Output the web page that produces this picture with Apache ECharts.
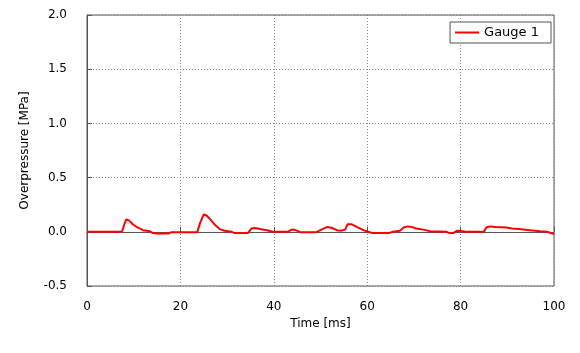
<!DOCTYPE html>
<html>
<head>
<meta charset="utf-8">
<script src="https://cdn.jsdelivr.net/npm/echarts@6/dist/echarts.min.js"></script>
<style>
  html, body { margin: 0; padding: 0; background: #fff; }
  #chart { width: 580px; height: 353px; }
</style>
</head>
<body>
<div id="chart"></div>
<script>
// 读图得到的数据 (time in ms, overpressure in MPa)
const seriesName = 'Gauge 1'
const timeMs = [0, 7.5, 8.0, 8.4, 9.0, 9.8, 10.8, 12.0, 13.5, 14.0, 15.0, 17.5, 18.0, 23.6, 24.2, 25.0, 25.6, 26.5, 27.5, 28.4, 29.5, 31.0, 31.5, 34.5, 35.2, 36.0, 37.0, 38.5, 39.8, 43.0, 43.8, 44.5, 45.8, 49.0, 50.2, 51.5, 52.5, 53.5, 54.3, 55.3, 55.8, 56.6, 58.0, 59.2, 60.2, 61.0, 64.8, 65.5, 67.0, 67.8, 68.7, 69.5, 70.5, 72.0, 73.5, 77.0, 77.5, 78.5, 79.2, 80.5, 81.0, 85.0, 85.5, 86.2, 87.5, 89.8, 91.0, 92.5, 94.8, 97.0, 98.5, 100]
const pressureMPa = [0, 0, 0.07, 0.115, 0.105, 0.07, 0.04, 0.015, 0.005, -0.01, -0.015, -0.015, -0.005, -0.005, 0.08, 0.16, 0.15, 0.11, 0.06, 0.025, 0.01, 0.0, -0.01, -0.01, 0.03, 0.035, 0.025, 0.015, 0.0, 0.0, 0.02, 0.018, -0.005, -0.005, 0.02, 0.045, 0.035, 0.015, 0.01, 0.02, 0.07, 0.07, 0.04, 0.015, 0.0, -0.01, -0.01, 0, 0.01, 0.04, 0.05, 0.045, 0.03, 0.02, 0.005, 0.0, -0.01, -0.01, 0.01, 0.005, 0.0, 0.0, 0.04, 0.05, 0.045, 0.04, 0.03, 0.025, 0.015, 0.005, 0.0, -0.02]
const xTicks = [0, 100, 20]
const yTicks = [-0.5, 2.0, 0.5]

let myChart = echarts.init(document.getElementById('chart'))
const font = 'DejaVu Sans'
myChart.setOption({
  animation: false,
  textStyle: { fontFamily: font, color: '#000' },
  grid: {
    left: 87,
    right: 26,
    top: 15,
    bottom: 67,
    show: true,
    borderColor: '#555',
    borderWidth: 1
  },
  legend: {
    data: [{ name: seriesName, icon: 'rect' }],
    right: 29,
    top: 22,
    itemWidth: 24,
    itemHeight: 2,
    itemGap: 4,
    padding: [4, 12, 4, 5],
    backgroundColor: '#fff',
    borderColor: '#555',
    borderWidth: 1,
    borderRadius: 0,
    textStyle: { fontFamily: font, fontSize: 13, color: '#000' }
  },
  xAxis: {
    type: 'value',
    min: xTicks[0],
    max: xTicks[1],
    interval: xTicks[2],
    name: 'Time [ms]',
    nameLocation: 'middle',
    nameGap: 28,
    nameTextStyle: { fontFamily: font, fontSize: 12, color: '#000' },
    axisLine: { show: true, lineStyle: { color: '#555' } },
    axisTick: { show: true, inside: true, length: 5, lineStyle: { color: '#555' } },
    axisLabel: { margin: 15, fontSize: 12, color: '#000', fontFamily: font },
    splitLine: { show: true, lineStyle: { color: '#888', type: [1, 2] } }
  },
  yAxis: {
    type: 'value',
    min: yTicks[0],
    max: yTicks[1],
    interval: yTicks[2],
    name: 'Overpressure [MPa]',
    nameLocation: 'middle',
    nameGap: 56,
    nameTextStyle: { fontFamily: font, fontSize: 12, color: '#000' },
    axisLine: { show: true, lineStyle: { color: '#555' } },
    axisTick: { show: true, inside: true, length: 5, lineStyle: { color: '#555' } },
    axisLabel: {
      margin: 20,
      fontSize: 12,
      color: '#000',
      fontFamily: font,
      formatter: (v) => v.toFixed(1)
    },
    splitLine: { show: true, lineStyle: { color: '#888', type: [1, 2] } }
  },
  series: [
    {
      name: seriesName,
      type: 'line',
      data: timeMs.map((t, i) => [t, pressureMPa[i]]),
      showSymbol: false,
      symbol: 'none',
      lineStyle: { color: '#ff0000', width: 2 },
      itemStyle: { color: '#ff0000' }
    }
  ]
})
</script>
</body>
</html>
